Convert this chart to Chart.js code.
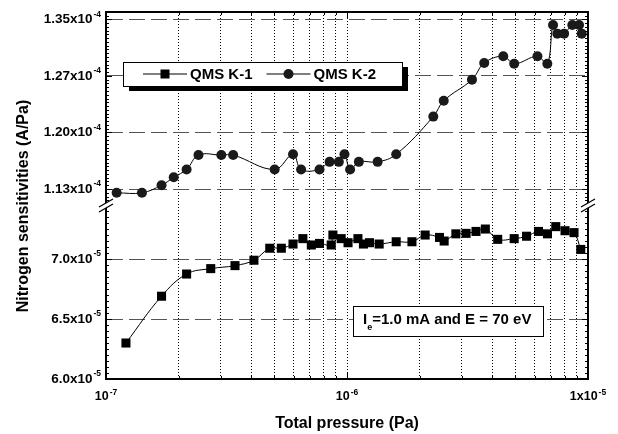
<!DOCTYPE html>
<html lang="en">
<head>
<meta charset="UTF-8">
<script src="https://cdn.jsdelivr.net/npm/chart.js"></script>
<title>Nitrogen sensitivities</title>
<style>
  html, body { margin: 0; padding: 0; background: #fff; }
  #wrap { position: relative; width: 618px; height: 434px; }
</style>
</head>
<body>
<div id="wrap"><canvas id="myChart"></canvas></div>
<script>
// QMS K-1 : pressure (Pa) and sensitivity (A/Pa), lower part of the broken axis
var k1Pressure = [1.21e-7, 1.70e-7, 2.16e-7, 2.72e-7, 3.43e-7, 4.11e-7, 4.78e-7, 5.34e-7, 5.97e-7, 6.56e-7,
                  7.11e-7, 7.69e-7, 8.60e-7, 8.74e-7, 9.46e-7, 1.01e-6, 1.11e-6, 1.17e-6, 1.24e-6, 1.36e-6,
                  1.60e-6, 1.86e-6, 2.11e-6, 2.42e-6, 2.53e-6, 2.83e-6, 3.12e-6, 3.43e-6, 3.75e-6, 4.22e-6,
                  4.94e-6, 5.56e-6, 6.23e-6, 6.79e-6, 7.35e-6, 8.03e-6, 8.75e-6, 9.33e-6];
var k1Sens = [6.30e-5, 6.69e-5, 6.875e-5, 6.92e-5, 6.945e-5, 6.99e-5, 7.09e-5, 7.09e-5, 7.125e-5, 7.17e-5,
              7.117e-5, 7.13e-5, 7.117e-5, 7.20e-5, 7.17e-5, 7.136e-5, 7.17e-5, 7.125e-5, 7.136e-5, 7.125e-5,
              7.144e-5, 7.144e-5, 7.20e-5, 7.18e-5, 7.15e-5, 7.21e-5, 7.214e-5, 7.23e-5, 7.25e-5, 7.164e-5,
              7.17e-5, 7.19e-5, 7.23e-5, 7.21e-5, 7.27e-5, 7.236e-5, 7.22e-5, 7.08e-5];

// QMS K-2 : upper part of the broken axis
var k2Pressure = [1.107e-7, 1.41e-7, 1.70e-7, 1.91e-7, 2.16e-7, 2.42e-7, 3.01e-7, 3.37e-7, 5.01e-7, 5.97e-7,
                  6.45e-7, 7.69e-7, 8.47e-7, 9.25e-7, 9.76e-7, 1.03e-6, 1.12e-6, 1.34e-6, 1.60e-6, 2.28e-6,
                  2.52e-6, 3.30e-6, 3.71e-6, 4.45e-6, 4.94e-6, 6.17e-6, 6.78e-6, 7.16e-6, 7.46e-6, 7.96e-6,
                  8.61e-6, 9.18e-6, 9.42e-6];
var k2Sens = [1.120e-4, 1.120e-4, 1.130e-4, 1.1405e-4, 1.151e-4, 1.170e-4, 1.170e-4, 1.170e-4, 1.151e-4, 1.171e-4,
              1.151e-4, 1.151e-4, 1.161e-4, 1.161e-4, 1.171e-4, 1.151e-4, 1.161e-4, 1.161e-4, 1.171e-4, 1.221e-4,
              1.242e-4, 1.270e-4, 1.292e-4, 1.301e-4, 1.291e-4, 1.301e-4, 1.291e-4, 1.3425e-4, 1.331e-4, 1.331e-4,
              1.3425e-4, 1.3425e-4, 1.331e-4];

// tick values and their labels (mantissa, exponent)
var xTicks = [1e-7, 1e-6, 1e-5];
var xTickLabels = [['10', '-7'], ['10', '-6'], ['1x10', '-5']];
var yHighTicks = [1.125e-4, 1.2e-4, 1.275e-4, 1.35e-4];
var yHighTickLabels = [['1.13x10', '-4'], ['1.20x10', '-4'], ['1.27x10', '-4'], ['1.35x10', '-4']];
var yLowTicks = [6.0e-5, 6.5e-5, 7.0e-5];
var yLowTickLabels = [['6.0x10', '-5'], ['6.5x10', '-5'], ['7.0x10', '-5']];

var xTitle = 'Total pressure (Pa)';
var yTitle = 'Nitrogen sensitivities (A/Pa)';
var noteText = ['I', 'e', '=1.0 mA and E = 70 eV'];

var FONT = '"Liberation Sans", Arial, sans-serif';
Chart.defaults.font.family = FONT;

function toPoints(xs, ys) {
    return xs.map(function (x, i) { return { x: x, y: ys[i] }; });
}

function supText(c, x, y, base, sup, size, supSize, align) {
    c.font = 'bold ' + size + 'px ' + FONT;
    var w1 = c.measureText(base).width;
    c.font = 'bold ' + supSize + 'px ' + FONT;
    var w2 = c.measureText(sup).width;
    var x0 = x;
    if (align === 'right') x0 = x - w1 - w2 - 1;
    if (align === 'center') x0 = x - (w1 + w2 + 1) / 2;
    c.textAlign = 'left';
    c.textBaseline = 'middle';
    c.font = 'bold ' + size + 'px ' + FONT;
    c.fillText(base, x0, y);
    c.font = 'bold ' + supSize + 'px ' + FONT;
    c.fillText(sup, x0 + w1 + 1, y - size * 0.38);
}

function marker(c, style, x, y) {
    c.fillStyle = '#000';
    if (style === 'rect') {
        c.fillRect(x - 4.5, y - 4.5, 9, 9);
    } else {
        c.fillStyle = '#1a1a1a';
        c.beginPath();
        c.arc(x, y, 5, 0, Math.PI * 2);
        c.fill();
    }
}

function breakMark(c, x, y) {
    c.save();
    c.fillStyle = '#fff';
    c.beginPath();
    c.moveTo(x - 7, y + 1);
    c.lineTo(x + 7, y - 7);
    c.lineTo(x + 7, y - 2);
    c.lineTo(x - 7, y + 6);
    c.closePath();
    c.fill();
    c.strokeStyle = '#000';
    c.lineWidth = 1.3;
    c.beginPath();
    c.moveTo(x - 7, y + 1); c.lineTo(x + 7, y - 7);
    c.moveTo(x - 7, y + 6); c.lineTo(x + 7, y - 2);
    c.stroke();
    c.restore();
}

var decorations = {
    id: 'decorations',
    afterDraw: function (chart) {
        var c = chart.ctx;
        var a = chart.chartArea;
        var xs = chart.scales.x, yl = chart.scales.yLow, yh = chart.scales.yHigh;
        c.save();

        // frame (top and right)
        c.strokeStyle = '#000';
        c.lineWidth = 2;
        c.beginPath();
        c.moveTo(a.left, a.top); c.lineTo(a.right, a.top); c.lineTo(a.right, a.bottom);
        c.stroke();

        // inward ticks on the y axes, left and right
        c.lineWidth = 1;
        function yTicks(scale, step, majors) {
            var start = Math.ceil(scale.min / step - 1e-6);
            for (var k = start; k * step <= scale.max + 1e-12; k++) {
                var v = k * step;
                var py = Math.round(scale.getPixelForValue(v)) + 0.5;
                var major = majors.some(function (m) { return Math.abs(m - v) < step / 10; });
                var len = major ? 6 : 3;
                c.beginPath();
                c.moveTo(a.left, py); c.lineTo(a.left + len, py);
                c.moveTo(a.right, py); c.lineTo(a.right - len, py);
                c.stroke();
            }
        }
        yTicks(yh, 0.005e-4, yHighTicks);
        yTicks(yl, 0.05e-5, yLowTicks);

        // inward ticks on top and bottom
        xs.ticks.forEach(function (t) {
            var px = Math.round(xs.getPixelForValue(t.value)) + 0.5;
            var len = t.major ? 6 : 3;
            c.beginPath();
            c.moveTo(px, a.bottom); c.lineTo(px, a.bottom - len);
            c.moveTo(px, a.top); c.lineTo(px, a.top + len);
            c.stroke();
        });

        // tick labels
        c.fillStyle = '#000';
        yHighTicks.forEach(function (v, i) {
            supText(c, 101, yh.getPixelForValue(v), yHighTickLabels[i][0], yHighTickLabels[i][1], 13.5, 8.5, 'right');
        });
        yLowTicks.forEach(function (v, i) {
            supText(c, 101, yl.getPixelForValue(v), yLowTickLabels[i][0], yLowTickLabels[i][1], 13.5, 8.5, 'right');
        });
        xTicks.forEach(function (v, i) {
            supText(c, xs.getPixelForValue(v), 397, xTickLabels[i][0], xTickLabels[i][1], 12.5, 8.5, 'center');
        });

        // axis titles
        c.font = 'bold 16px ' + FONT;
        c.textAlign = 'center';
        c.textBaseline = 'middle';
        c.fillText(xTitle, (a.left + a.right) / 2, 424);
        c.save();
        c.translate(24, 206);
        c.rotate(-Math.PI / 2);
        c.fillText(yTitle, 0, 0);
        c.restore();

        // axis breaks
        var yb = yl.top;
        breakMark(c, a.left, yb);
        breakMark(c, a.right, yb);

        // legend with shadow
        var lx = 123, ly = 62, lw = 279, lh = 24;
        c.fillStyle = '#000';
        c.fillRect(lx + 6, ly + 5, lw, lh);
        c.fillStyle = '#fff';
        c.fillRect(lx, ly, lw, lh);
        c.strokeStyle = '#000';
        c.lineWidth = 1;
        c.strokeRect(lx + 0.5, ly + 0.5, lw, lh);
        var cx = lx + 20, cy = ly + lh / 2;
        c.font = 'bold 15px ' + FONT;
        chart.data.datasets.forEach(function (ds) {
            c.strokeStyle = '#000';
            c.lineWidth = 1;
            c.beginPath();
            c.moveTo(cx, cy); c.lineTo(cx + 44, cy);
            c.stroke();
            marker(c, ds.pointStyle, cx + 22, cy);
            c.fillStyle = '#000';
            c.font = 'bold 15px ' + FONT;
            c.textAlign = 'left';
            c.textBaseline = 'middle';
            c.fillText(ds.label, cx + 47, cy + 1);
            cx += 47 + c.measureText(ds.label).width + 14;
        });

        // note box
        var nx = 353, ny = 306, nw = 190, nh = 30;
        c.fillStyle = '#fff';
        c.fillRect(nx, ny, nw, nh);
        c.strokeStyle = '#000';
        c.lineWidth = 1;
        c.strokeRect(nx + 0.5, ny + 0.5, nw, nh);
        c.fillStyle = '#000';
        c.textAlign = 'left';
        c.textBaseline = 'middle';
        c.font = 'bold 15px ' + FONT;
        var tx = nx + 10;
        c.fillText(noteText[0], tx, ny + 14);
        var wI = c.measureText(noteText[0]).width;
        c.font = 'bold 9px ' + FONT;
        c.fillText(noteText[1], tx + wI, ny + 22);
        var wE = c.measureText(noteText[1]).width;
        c.font = 'bold 15px ' + FONT;
        c.fillText(noteText[2], tx + wI + wE, ny + 14);

        c.restore();
    }
};

var ctx = document.getElementById('myChart');
var myChart = new Chart(ctx, {
    type: 'line',
    data: {
        datasets: [{
            label: 'QMS K-1',
            data: toPoints(k1Pressure, k1Sens),
            yAxisID: 'yLow',
            borderColor: '#000',
            backgroundColor: '#000',
            borderWidth: 1,
            pointStyle: 'rect',
            pointRadius: 6.4,
            pointBorderWidth: 0,
            tension: 0.4
        }, {
            label: 'QMS K-2',
            data: toPoints(k2Pressure, k2Sens),
            yAxisID: 'yHigh',
            borderColor: '#000',
            backgroundColor: '#1a1a1a',
            borderWidth: 1,
            pointStyle: 'circle',
            pointRadius: 5,
            pointBorderWidth: 0,
            tension: 0.4
        }]
    },
    options: {
        responsive: true,
        maintainAspectRatio: false,
        animation: false,
        layout: { padding: { top: 12, right: 30, left: 0, bottom: 0 } },
        plugins: { legend: { display: false }, tooltip: { enabled: false } },
        scales: {
            x: {
                type: 'logarithmic',
                min: 1e-7,
                max: 1e-5,
                afterBuildTicks: function (scale) {
                    var t = [];
                    [1e-7, 1e-6].forEach(function (d) {
                        for (var m = 1; m < 10; m++) t.push({ value: m * d, major: m === 1 });
                    });
                    t.push({ value: 1e-5, major: true });
                    scale.ticks = t;
                },
                afterFit: function (scale) { scale.height = 55; },
                ticks: { display: false, autoSkip: false },
                grid: {
                    drawTicks: false,
                    lineWidth: 1,
                    color: function (c) {
                        var v = c.tick && c.tick.value;
                        return (v <= 1.01e-7 || v >= 0.99e-5) ? 'rgba(0,0,0,0)' : '#000';
                    }
                },
                border: { display: true, color: '#000', width: 2, dash: [1, 2] }
            },
            yLow: {
                type: 'linear',
                position: 'left',
                stack: 'sens',
                stackWeight: 173,
                min: 6.0e-5,
                max: 7.442e-5,
                afterBuildTicks: function (scale) {
                    scale.ticks = yLowTicks.map(function (v) { return { value: v }; });
                },
                afterFit: function (scale) { scale.width = 106; },
                ticks: { display: false },
                grid: {
                    drawTicks: false,
                    lineWidth: 1,
                    color: function (c) {
                        return (c.tick && c.tick.value <= 6.01e-5) ? 'rgba(0,0,0,0)' : '#555';
                    }
                },
                border: { display: true, color: '#000', width: 2, dash: [16, 6] }
            },
            yHigh: {
                type: 'linear',
                position: 'left',
                stack: 'sens',
                stackWeight: 194,
                min: 1.1025e-4,
                max: 1.3597e-4,
                afterBuildTicks: function (scale) {
                    scale.ticks = yHighTicks.map(function (v) { return { value: v }; });
                },
                afterFit: function (scale) { scale.width = 106; },
                ticks: { display: false },
                grid: { drawTicks: false, lineWidth: 1, color: '#555' },
                border: { display: true, color: '#000', width: 2, dash: [16, 6] }
            }
        }
    },
    plugins: [decorations]
});
</script>
</body>
</html>
